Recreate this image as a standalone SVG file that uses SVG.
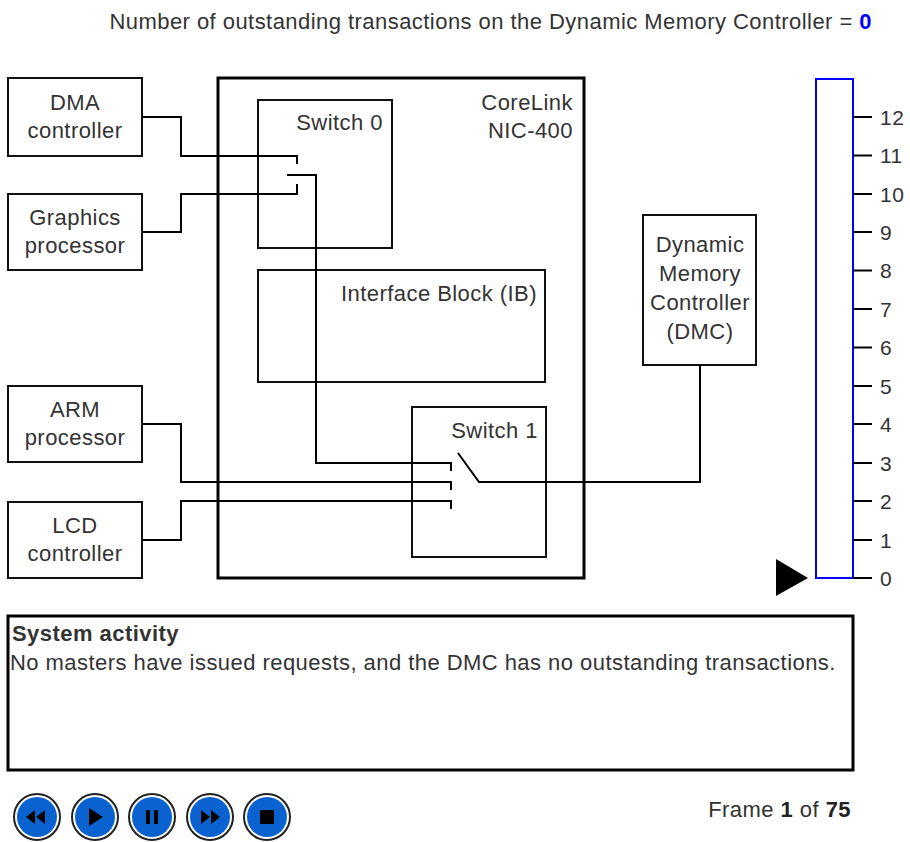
<svg xmlns="http://www.w3.org/2000/svg" width="910" height="842" viewBox="0 0 910 842">
<style>
text{font-family:"Liberation Sans",Arial,sans-serif;font-size:22px;fill:#333;letter-spacing:0.45px}
.box{fill:#fff;stroke:#111;stroke-width:2}
.thick{fill:none;stroke:#000;stroke-width:3}
.c{text-anchor:middle}
.r{text-anchor:end}
.wire{fill:none;stroke:#000;stroke-width:2}
.tick{stroke:#000;stroke-width:2}
.g{font-size:21px}
.btn-o{fill:#fff;stroke:#222;stroke-width:2}
.btn-i{fill:#0a62d0}
.ic{fill:#000}
</style>
<rect width="910" height="842" fill="#fff"/>
<text x="872" y="29" class="r">Number of outstanding transactions on the Dynamic Memory Controller = <tspan font-weight="bold" fill="#0000ff">0</tspan></text>

<g id="corelink"><rect x="218" y="78" width="366" height="500" class="thick"/>
<text x="573" y="110" class="r">CoreLink</text><text x="573" y="138" class="r">NIC-400</text></g>
<g id="switch0"><rect x="258" y="100" width="134" height="148" class="box"/><text x="383" y="130" class="r">Switch 0</text></g>
<g id="ib"><rect x="258" y="270" width="287" height="112" class="box"/><text x="537" y="301" class="r">Interface Block (IB)</text></g>
<g id="switch1"><rect x="412" y="407" width="134" height="150" class="box"/><text x="538" y="438" class="r">Switch 1</text></g>
<g id="dma"><rect x="8" y="78" width="134" height="78" class="box"/><text x="75" y="110" class="c">DMA</text><text x="75" y="138" class="c">controller</text></g>
<g id="gpu"><rect x="8" y="194" width="134" height="76" class="box"/><text x="75" y="225" class="c">Graphics</text><text x="75" y="253" class="c">processor</text></g>
<g id="arm"><rect x="8" y="386" width="134" height="76" class="box"/><text x="75" y="417" class="c">ARM</text><text x="75" y="445" class="c">processor</text></g>
<g id="lcd"><rect x="8" y="502" width="134" height="76" class="box"/><text x="75" y="533" class="c">LCD</text><text x="75" y="561" class="c">controller</text></g>
<g id="dmc"><rect x="643" y="215" width="113" height="150" class="box"/>
<text x="700" y="252" class="c">Dynamic</text><text x="700" y="281" class="c">Memory</text><text x="700" y="310" class="c">Controller</text><text x="700" y="339" class="c">(DMC)</text></g>

<g id="connectors">
<path class="wire" d="M142,117 H181 V156 H297 V164"/>
<path class="wire" d="M142,232 H181 V194 H297 V184"/>
<path class="wire" d="M287,175 H316 V463 H451 V471"/>
<path class="wire" d="M142,424 H181 V482 H451 V490"/>
<path class="wire" d="M142,540 H181 V501 H451 V509"/>
<path class="wire" d="M458,453 L479,482 H700 V365"/>
</g>

<g id="gauge">
<rect x="816" y="79" width="37" height="499" fill="#fff" stroke="#0000ff" stroke-width="2"/>
<g class="tick">
<line x1="853" y1="578" x2="872" y2="578"/><line x1="853" y1="540" x2="872" y2="540"/><line x1="853" y1="501" x2="872" y2="501"/><line x1="853" y1="463" x2="872" y2="463"/><line x1="853" y1="424" x2="872" y2="424"/><line x1="853" y1="386" x2="872" y2="386"/><line x1="853" y1="347.5" x2="872" y2="347.5"/><line x1="853" y1="309" x2="872" y2="309"/><line x1="853" y1="270.5" x2="872" y2="270.5"/><line x1="853" y1="232" x2="872" y2="232"/><line x1="853" y1="194" x2="872" y2="194"/><line x1="853" y1="155.5" x2="872" y2="155.5"/><line x1="853" y1="117" x2="872" y2="117"/>
</g>
<text x="880" y="586" class="g">0</text><text x="880" y="548" class="g">1</text><text x="880" y="509" class="g">2</text><text x="880" y="471" class="g">3</text><text x="880" y="432" class="g">4</text><text x="880" y="394" class="g">5</text><text x="880" y="355" class="g">6</text><text x="880" y="317" class="g">7</text><text x="880" y="278" class="g">8</text><text x="880" y="240" class="g">9</text><text x="880" y="202" class="g">10</text><text x="880" y="163" class="g">11</text><text x="880" y="125" class="g">12</text>
<path d="M776,559 L808,578 L776,596 Z" fill="#000"/>
</g>

<g id="activity">
<rect x="8" y="616" width="845" height="154" class="thick"/>
<text x="12" y="641" font-weight="bold" fill="#222">System activity</text>
<text x="10" y="670">No masters have issued requests, and the DMC has no outstanding transactions.</text>
</g>

<g id="controls">
<g id="btn-rewind"><circle cx="37" cy="817" r="23" class="btn-o"/><circle cx="37" cy="817" r="20" class="btn-i"/><path class="ic" d="M26,817 L35,810 V824 Z M36,817 L45,810 V824 Z"/></g>
<g id="btn-play"><circle cx="95" cy="817" r="23" class="btn-o"/><circle cx="95" cy="817" r="20" class="btn-i"/><path class="ic" d="M89,808 L103,817 L89,826 Z"/></g>
<g id="btn-pause"><circle cx="152" cy="817" r="23" class="btn-o"/><circle cx="152" cy="817" r="20" class="btn-i"/><rect x="146" y="810" width="4" height="14" class="ic"/><rect x="154" y="810" width="4" height="14" class="ic"/></g>
<g id="btn-ff"><circle cx="210" cy="817" r="23" class="btn-o"/><circle cx="210" cy="817" r="20" class="btn-i"/><path class="ic" d="M201,810 L210,817 L201,824 Z M211,810 L220,817 L211,824 Z"/></g>
<g id="btn-stop"><circle cx="267" cy="817" r="23" class="btn-o"/><circle cx="267" cy="817" r="20" class="btn-i"/><rect x="260" y="810" width="14" height="14" class="ic"/></g>
<text x="851" y="817" class="r">Frame <tspan font-weight="bold" fill="#222">1</tspan> of <tspan font-weight="bold" fill="#222">75</tspan></text>
</g>
</svg>
